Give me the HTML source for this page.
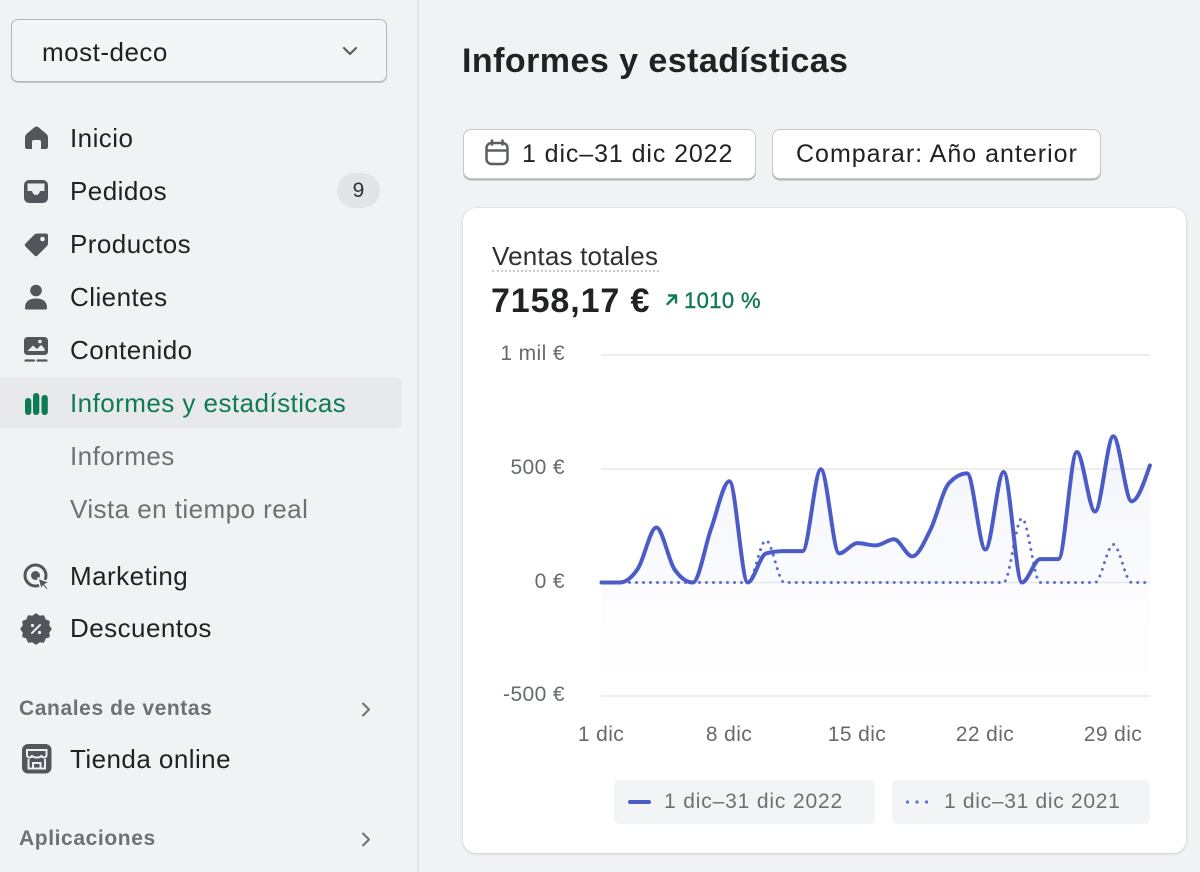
<!DOCTYPE html>
<html><head><meta charset="utf-8">
<style>
*{margin:0;padding:0;box-sizing:border-box}
body{width:1200px;height:872px;overflow:hidden;background:#f1f2f4;font-family:"Liberation Sans",sans-serif;position:relative;color:#202223}
.a{position:absolute;white-space:nowrap}
.nav{left:70px;font-size:26px;line-height:40px;height:40px;letter-spacing:0.45px;color:#1f2124}
.sub{color:#6d7175}
.sec{left:19px;font-size:21px;font-weight:bold;line-height:30px;height:30px;color:#6d7175;letter-spacing:0.6px}
.yl{width:90px;text-align:right;font-size:21px;line-height:24px;color:#666a6e;letter-spacing:0.4px}
.xl{width:100px;text-align:center;font-size:21px;line-height:24px;color:#666a6e;letter-spacing:0.4px}
.btn{background:#fff;border:1.5px solid #c5c7ca;border-radius:8px;box-shadow:0 1.5px 0 #b3b5b8}
.btxt{font-size:25px;line-height:30px;color:#202223;letter-spacing:0.9px}
.lg{background:#f3f4f6;border-radius:5px;height:44px;top:780px}
.lgt{font-size:21px;line-height:24px;color:#6d7175;letter-spacing:0.85px}
</style></head>
<body>
<!-- sidebar -->
<div class="a" style="left:417px;top:0;width:2px;height:872px;background:#e2e3e5"></div>
<div class="a" style="left:11px;top:19px;width:376px;height:63px;border:1.5px solid #b5b6b8;border-radius:7px;background:#f4f5f6;box-shadow:0 1px 0 #c9cacc"></div>
<div class="a" style="left:42px;top:32px;font-size:26px;line-height:40px;color:#1f2124;letter-spacing:0.5px">most-deco</div>
<svg class="a" style="left:0;top:0" width="417" height="872">
  <path d="M344 48 L350 54 L356 48" fill="none" stroke="#5c5f62" stroke-width="2.2" stroke-linecap="round" stroke-linejoin="round"/>
  <path d="M36.5 126.5 Q37.5 126.5 38.5 127.3 L46.5 134 Q48 135.3 48 137.5 L48 146.5 Q48 149 45.5 149 L41 149 L41 142 Q41 140 39 140 L34 140 Q32 140 32 142 L32 149 L27.5 149 Q25 149 25 146.5 L25 137.5 Q25 135.3 26.5 134 L34.5 127.3 Q35.5 126.5 36.5 126.5Z" fill="#51565c"/>
  <rect x="24" y="180" width="24" height="23" rx="5" fill="#51565c"/>
  <path d="M27.5 183.5 H44.5 V191 H40 Q39 195 36 195 Q33 195 32 191 H27.5Z" fill="#eceef0"/>
  <path d="M38 233.5 L46 233.5 Q48 233.5 48 235.5 L48 243.5 Q48 245 47 246 L37.5 255.5 Q36 257 34.5 255.5 L25.5 246.5 Q24 245 25.5 243.5 L35 234 Q36 233.5 38 233.5Z" fill="#51565c"/>
  <circle cx="42.5" cy="239" r="2.3" fill="#f1f2f4"/>
  <circle cx="36" cy="290.5" r="5.8" fill="#51565c"/>
  <path d="M25 308 Q25 298.5 36 298.5 Q47 298.5 47 308 Q47 309.5 45.5 309.5 L26.5 309.5 Q25 309.5 25 308Z" fill="#51565c"/>
  <rect x="24" y="337" width="24" height="18" rx="3.5" fill="#51565c"/>
  <path d="M27.5 351 L33 345.5 L37 349 L41 345 L44.5 348.5 L44.5 351Z" fill="#eceef0"/>
  <circle cx="40" cy="341.5" r="1.8" fill="#eceef0"/>
  <path d="M25.5 360.5 H34 M37.5 360.5 H46.5" stroke="#51565c" stroke-width="2.2" stroke-linecap="round"/>
  <circle cx="35.5" cy="575.5" r="10.5" fill="none" stroke="#51565c" stroke-width="3"/>
  <circle cx="35.5" cy="575.5" r="4.5" fill="#51565c"/>
  <path d="M38 578 L50 582.5 L45 584.5 L48.5 588.5 L46.5 590 L43 586 L41 590Z" fill="#51565c" stroke="#f1f2f4" stroke-width="1.5" stroke-linejoin="round"/>
  <path d="M36 614 L39.5 616.5 L43.5 616 L45 620 L49 621.5 L48.5 625.5 L51 629 L48.5 632.5 L49 636.5 L45 638 L43.5 642 L39.5 641.5 L36 644 L32.5 641.5 L28.5 642 L27 638 L23 636.5 L23.5 632.5 L21 629 L23.5 625.5 L23 621.5 L27 620 L28.5 616 L32.5 616.5Z" fill="#51565c" stroke="#51565c" stroke-width="1.5" stroke-linejoin="round"/>
  <path d="M32 633 L40 625" stroke="#eceef0" stroke-width="2" stroke-linecap="round"/>
  <circle cx="32.5" cy="625.5" r="1.6" fill="#eceef0"/>
  <circle cx="39.5" cy="632.5" r="1.6" fill="#eceef0"/>
  <path d="M363 703.5 L369 709.5 L363 715.5" fill="none" stroke="#6d7175" stroke-width="2" stroke-linecap="round" stroke-linejoin="round"/>
  <path d="M363 833.5 L369 839.5 L363 845.5" fill="none" stroke="#6d7175" stroke-width="2" stroke-linecap="round" stroke-linejoin="round"/>
  <rect x="22" y="744" width="29.5" height="29.5" rx="6" fill="#51565c"/>
  <path d="M27 750 H46.5 V755 Q46.5 757.5 44 757.5 Q41.5 757.5 41.5 755 Q41.5 757.5 36.75 757.5 Q32 757.5 32 755 Q32 757.5 29.5 757.5 Q27 757.5 27 755Z" fill="none" stroke="#eceef0" stroke-width="2"/>
  <path d="M28.5 759 V768.5 H45 V759 M33 768.5 V763 H40.5 V768.5" fill="none" stroke="#eceef0" stroke-width="2"/>
</svg>
<div class="a" style="left:0;top:377px;width:402px;height:51px;background:#e8e9eb;border-radius:0 6px 6px 0"></div>
<svg class="a" style="left:0;top:380px" width="60" height="45">
  <rect x="25" y="18" width="6.3" height="17" rx="3" fill="#0f7b53"/>
  <rect x="33" y="13" width="6.3" height="22" rx="3" fill="#0f7b53"/>
  <rect x="41.5" y="15" width="6.3" height="20" rx="3" fill="#0f7b53"/>
</svg>
<div class="a nav" style="top:118px">Inicio</div>
<div class="a nav" style="top:171px">Pedidos</div>
<div class="a" style="left:337px;top:173px;width:43px;height:35px;border-radius:18px;background:#e3e4e6;text-align:center;font-size:21px;line-height:35px;color:#303030">9</div>
<div class="a nav" style="top:224px">Productos</div>
<div class="a nav" style="top:277px">Clientes</div>
<div class="a nav" style="top:330px">Contenido</div>
<div class="a nav" style="top:383px;color:#0f7b53">Informes y estadísticas</div>
<div class="a nav sub" style="top:436px">Informes</div>
<div class="a nav sub" style="top:489px">Vista en tiempo real</div>
<div class="a nav" style="top:556px">Marketing</div>
<div class="a nav" style="top:608px">Descuentos</div>
<div class="a sec" style="top:694px">Canales de ventas</div>
<div class="a nav" style="top:739px">Tienda online</div>
<div class="a sec" style="top:824px">Aplicaciones</div>

<!-- main -->
<div class="a" style="left:462px;top:39px;font-size:34px;font-weight:bold;line-height:44px;letter-spacing:0.45px;color:#202223">Informes y estadísticas</div>
<div class="a btn" style="left:463px;top:129px;width:293px;height:50px"></div>
<svg class="a" style="left:480px;top:136px" width="36" height="36">
  <rect x="6.5" y="7" width="21" height="21" rx="5" fill="none" stroke="#5c5f62" stroke-width="2.5"/>
  <path d="M7 14.5 H27.5" stroke="#5c5f62" stroke-width="2.5"/>
  <path d="M12 4.5 V8.5 M22.5 4.5 V8.5" stroke="#5c5f62" stroke-width="2.5" stroke-linecap="round"/>
</svg>
<div class="a btxt" style="left:522px;top:139px">1 dic–31 dic 2022</div>
<div class="a btn" style="left:772px;top:129px;width:329px;height:50px"></div>
<div class="a btxt" style="left:796px;top:139px;letter-spacing:1px">Comparar: Año anterior</div>

<div class="a" style="left:463px;top:208px;width:723px;height:645px;background:#fff;border-radius:13px;box-shadow:0 1px 3px rgba(0,0,0,0.12),0 0 0 1px rgba(0,0,0,0.03)"></div>
<div class="a" style="left:492px;top:241px;font-size:26px;line-height:30px;color:#303030;letter-spacing:0.2px">Ventas totales</div>
<div class="a" style="left:492px;top:270px;width:167px;height:0;border-top:2px dotted #c9cacc"></div>
<div class="a" style="left:491px;top:281px;font-size:34px;font-weight:bold;line-height:40px;color:#202223;letter-spacing:0.9px">7158,17 €</div>
<svg class="a" style="left:662px;top:290px" width="20" height="20">
  <path d="M5.5 14 L14 5.5 M7 5.5 H14 V12.5" fill="none" stroke="#0f7b53" stroke-width="2.4" stroke-linecap="round" stroke-linejoin="round"/>
</svg>
<div class="a" style="left:684px;top:288px;font-size:22px;line-height:26px;color:#0f7b53;letter-spacing:0.4px;-webkit-text-stroke:0.4px #0f7b53">1010 %</div>

<div class="a yl" style="left:475px;top:342px">1 mil €</div>
<div class="a yl" style="left:475px;top:456px">500 €</div>
<div class="a yl" style="left:475px;top:570px">0 €</div>
<div class="a yl" style="left:475px;top:683px">-500 €</div>

<svg class="a" style="left:0;top:0" width="1200" height="872">
  <defs>
    <linearGradient id="g1" x1="0" y1="430" x2="0" y2="583" gradientUnits="userSpaceOnUse">
      <stop offset="0" stop-color="#4e5fc7" stop-opacity="0.06"/>
      <stop offset="1" stop-color="#4e5fc7" stop-opacity="0.03"/>
    </linearGradient>
    <linearGradient id="g2" x1="0" y1="583" x2="0" y2="690" gradientUnits="userSpaceOnUse">
      <stop offset="0" stop-color="#4e5fc7" stop-opacity="0.018"/>
      <stop offset="1" stop-color="#4e5fc7" stop-opacity="0.0"/>
    </linearGradient>
  </defs>
  <g stroke="#e8e9ea" stroke-width="1.5">
    <line x1="601" y1="355" x2="1150" y2="355"/>
    <line x1="601" y1="469" x2="1150" y2="469"/>
    <line x1="601" y1="582.5" x2="1150" y2="582.5"/>
    <line x1="601" y1="696" x2="1150" y2="696"/>
  </g>
  <rect x="601" y="583" width="548" height="107" fill="url(#g2)"/>
  <path id="fa" fill="url(#g1)" d=""/>
  <path id="pb" fill="none" stroke="#5a6fcc" stroke-width="3" stroke-dasharray="0 7" stroke-linecap="round" d=""/>
  <path id="pa" fill="none" stroke="#4b5cc7" stroke-width="4" stroke-linecap="round" stroke-linejoin="round" d=""/>
</svg>

<div class="a xl" style="left:551px;top:723px">1 dic</div>
<div class="a xl" style="left:679px;top:723px">8 dic</div>
<div class="a xl" style="left:807px;top:723px">15 dic</div>
<div class="a xl" style="left:935px;top:723px">22 dic</div>
<div class="a xl" style="left:1063px;top:723px">29 dic</div>

<div class="a lg" style="left:614px;width:261px"></div>
<div class="a" style="left:628px;top:800px;width:23px;height:4px;border-radius:2px;background:#4b5cc7"></div>
<div class="a lgt" style="left:664px;top:790px">1 dic–31 dic 2022</div>
<div class="a lg" style="left:892px;width:258px"></div>
<svg class="a" style="left:900px;top:795px" width="34" height="14">
  <circle cx="7.5" cy="7" r="1.6" fill="#5a6fcc"/>
  <circle cx="17" cy="7" r="1.6" fill="#5a6fcc"/>
  <circle cx="26.5" cy="7" r="1.6" fill="#5a6fcc"/>
</svg>
<div class="a lgt" style="left:944px;top:790px;letter-spacing:0.7px">1 dic–31 dic 2021</div>

<script>
(function(){
var X=function(i){return 601.5+i*18.28;}, Y=function(v){return 582.5-v*0.2274;};
var A=[0,0,62,242,57,0,238,445,0,128,138,138,498,128,173,163,190,115,233,436,480,145,486,0,103,103,574,312,643,357,515];
var B=[0,0,0,0,0,0,0,0,0,185,0,0,0,0,0,0,0,0,0,0,0,0,0,282,0,0,0,0,167,0,0];
function mono(vals){
  var p=vals.map(function(v,i){return [X(i),Y(v)];}), n=p.length, t=new Array(n), s=[], i;
  for(i=0;i<n-1;i++) s.push((p[i+1][1]-p[i][1])/(p[i+1][0]-p[i][0]));
  for(i=1;i<n-1;i++){
    var h0=p[i][0]-p[i-1][0],h1=p[i+1][0]-p[i][0],s0=s[i-1],s1=s[i],q=(s0*h1+s1*h0)/(h0+h1);
    t[i]=((s0<0?-1:1)+(s1<0?-1:1))*Math.min(Math.abs(s0),Math.abs(s1),0.5*Math.abs(q))||0;
  }
  t[0]=(3*s[0]-t[1])/2; t[n-1]=(3*s[n-2]-t[n-2])/2;
  var d='M'+p[0][0].toFixed(2)+','+p[0][1].toFixed(2);
  for(i=0;i<n-1;i++){
    var dx=(p[i+1][0]-p[i][0])/3;
    d+=' C'+(p[i][0]+dx).toFixed(2)+','+(p[i][1]+dx*t[i]).toFixed(2)+' '+(p[i+1][0]-dx).toFixed(2)+','+(p[i+1][1]-dx*t[i+1]).toFixed(2)+' '+p[i+1][0].toFixed(2)+','+p[i+1][1].toFixed(2);
  }
  return d;
}
var da=mono(A);
document.getElementById('pa').setAttribute('d',da);
document.getElementById('fa').setAttribute('d',da+' L'+X(30)+',582.5 L'+X(0)+',582.5 Z');
document.getElementById('pb').setAttribute('d',mono(B));
})();
</script>
</body></html>
